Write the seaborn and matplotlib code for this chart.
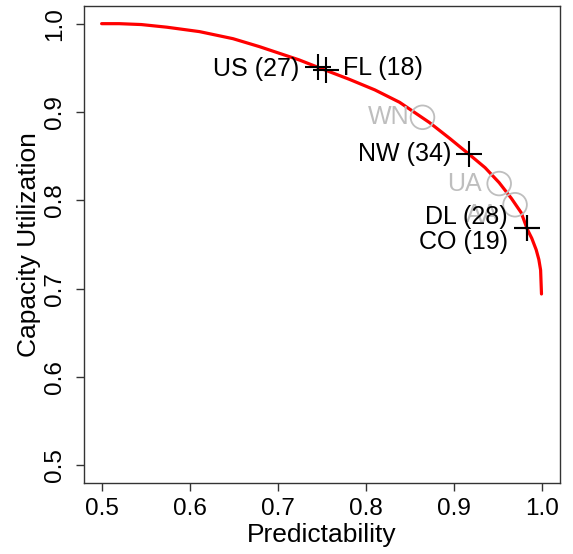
import matplotlib
matplotlib.use("Agg")
import matplotlib.pyplot as plt
import seaborn as sns
import pandas as pd

# Frontier curve
curve_x = [0.500, 0.520, 0.545, 0.574, 0.611, 0.649, 0.679, 0.724, 0.747, 0.781, 0.810,
           0.838, 0.872, 0.895, 0.917, 0.935, 0.951, 0.965, 0.976, 0.983, 0.988,
           0.993, 0.996, 0.998, 0.999]
curve_y = [1.000, 1.000, 0.999, 0.996, 0.991, 0.983, 0.974, 0.959, 0.950, 0.937, 0.925,
           0.911, 0.888, 0.870, 0.852, 0.837, 0.820, 0.802, 0.786, 0.767, 0.757,
           0.744, 0.733, 0.721, 0.694]

# Airlines marked with "+"
black_names = ["US (27)", "FL (18)", "NW (34)", "DL (28)", "CO (19)"]
black_x = [0.746, 0.754, 0.917, 0.982, 0.982]
black_y = [0.951, 0.947, 0.852, 0.769, 0.769]

# Airlines marked with grey circles
grey_names = ["WN", "UA", "AA"]
grey_x = [0.864, 0.951, 0.969]
grey_y = [0.894, 0.819, 0.795]

x_ticks = [0.5, 0.6, 0.7, 0.8, 0.9, 1.0]
y_ticks = [0.5, 0.6, 0.7, 0.8, 0.9, 1.0]

sns.set_style("white")
plt.rcParams["font.family"] = ["Liberation Sans", "DejaVu Sans"]
plt.rcParams["text.color"] = "black"
plt.rcParams["axes.labelcolor"] = "black"
plt.rcParams["xtick.color"] = "black"
plt.rcParams["ytick.color"] = "black"

fig = plt.figure(figsize=(5.73, 5.54), dpi=100)
ax = fig.add_axes([84 / 573, 1 - 483 / 554, 476 / 573, 477 / 554])

curve = pd.DataFrame({"x": curve_x, "y": curve_y})
sns.lineplot(data=curve, x="x", y="y", sort=False, color="red", linewidth=2.3, ax=ax, zorder=2)

sns.scatterplot(x=grey_x, y=grey_y, marker="o", s=290, facecolor="none",
                edgecolor="#BEBEBE", linewidth=1.3, ax=ax, zorder=3)
sns.scatterplot(x=black_x, y=black_y, marker="+", s=330, color="black",
                linewidth=1.5, ax=ax, zorder=4)

fs = 18
grey_offsets = [(-13, 0), (-17, 0), (-16, -10)]
for n, x, y, off in zip(grey_names, grey_x, grey_y, grey_offsets):
    ax.annotate(n, (x, y), xytext=off, textcoords="offset pixels", ha="right",
                va="center", color="#BEBEBE", fontsize=fs, zorder=5)

black_offsets = [(-19, -2), (17, 2), (-18, 0), (-19, 11), (-19, -14)]
black_ha = ["right", "left", "right", "right", "right"]
for n, x, y, off, ha in zip(black_names, black_x, black_y, black_offsets, black_ha):
    ax.annotate(n, (x, y), xytext=off, textcoords="offset pixels", ha=ha,
                va="center", color="black", fontsize=fs, zorder=6)

ax.set_xlim(0.48, 1.02)
ax.set_ylim(0.48, 1.02)
ax.set_xticks(x_ticks)
ax.set_yticks(y_ticks)
ax.set_xticklabels([f"{t:.1f}" for t in x_ticks], fontsize=17.5)
ax.set_yticklabels([f"{t:.1f}" for t in y_ticks], fontsize=17.5, rotation=90, va="center")
ax.tick_params(axis="both", direction="out", length=6, width=1, color="#333333",
               bottom=True, left=True, pad=5)
ax.tick_params(axis="y", pad=7)
ax.set_xlabel("Predictability", fontsize=19, labelpad=2)
ax.set_ylabel("Capacity Utilization", fontsize=19, labelpad=2)
for s in ax.spines.values():
    s.set_visible(True)
    s.set_color("#333333")
    s.set_linewidth(1)

fig.savefig("out.png", dpi=100)
